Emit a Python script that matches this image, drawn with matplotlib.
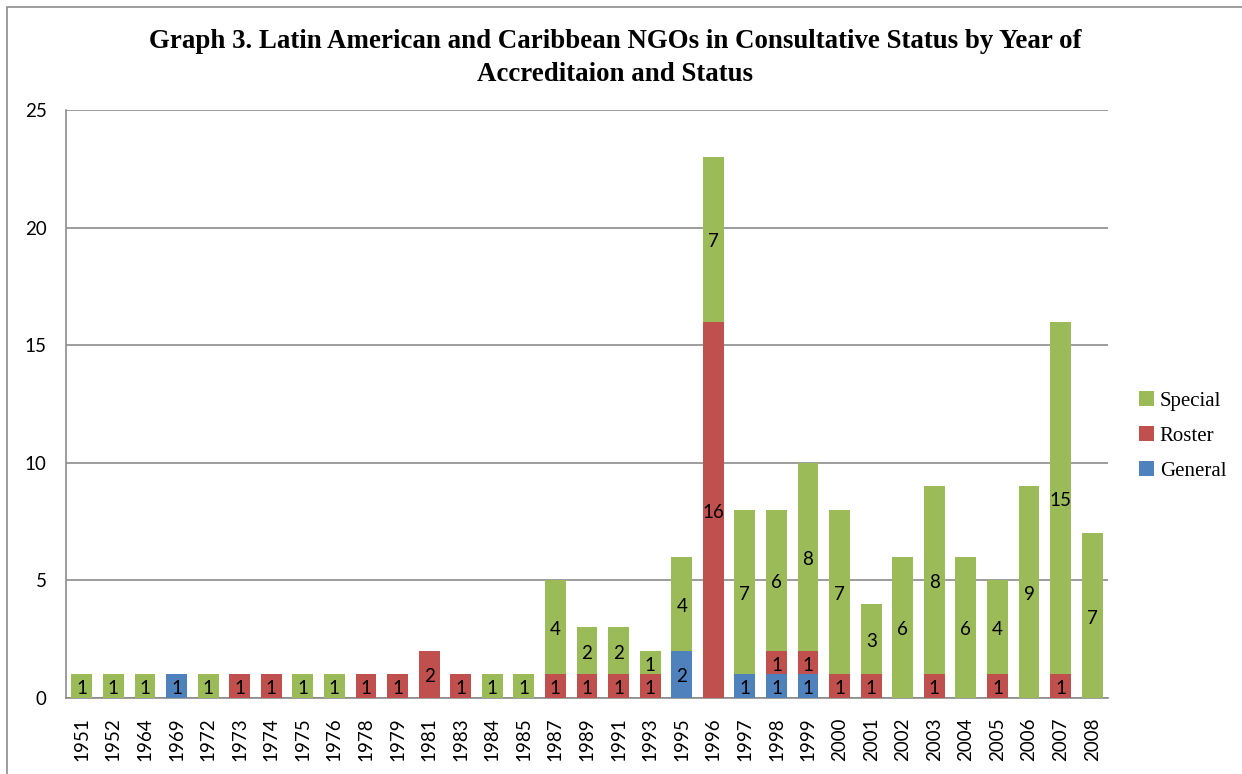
import matplotlib
matplotlib.use("Agg")
import matplotlib.pyplot as plt
from matplotlib.patches import Rectangle
import numpy as np

years = ["1951", "1952", "1964", "1969", "1972", "1973", "1974", "1975", "1976",
         "1978", "1979", "1981", "1983", "1984", "1985", "1987", "1989", "1991",
         "1993", "1995", "1996", "1997", "1998", "1999", "2000", "2001", "2002",
         "2003", "2004", "2005", "2006", "2007", "2008"]
general = [0, 0, 0, 1, 0, 0, 0, 0, 0, 0, 0, 0, 0, 0, 0, 0, 0, 0,
           0, 2, 0, 1, 1, 1, 0, 0, 0, 0, 0, 0, 0, 0, 0]
roster = [0, 0, 0, 0, 0, 1, 1, 0, 0, 1, 1, 2, 1, 0, 0, 1, 1, 1,
          1, 0, 16, 0, 1, 1, 1, 1, 0, 1, 0, 1, 0, 1, 0]
special = [1, 1, 1, 0, 1, 0, 0, 1, 1, 0, 0, 0, 0, 1, 1, 4, 2, 2,
           1, 4, 7, 7, 6, 8, 7, 3, 6, 8, 6, 4, 9, 15, 7]

title = ("Graph 3. Latin American and Caribbean NGOs in Consultative Status by Year of\n"
         "Accreditaion and Status")

c_general = "#4F81BD"
c_roster = "#C0504D"
c_special = "#9BBB59"
grid_c = "#8C8C8C"

W, H = 1242, 774
fig = plt.figure(figsize=(W / 100, H / 100), dpi=100)
ax = fig.add_axes([66 / W, 1 - 698 / H, (1108 - 66) / W, (698 - 110) / H])

# outer frame of the chart area
fig.add_artist(Rectangle((7 / W, -0.1), 1.2, 1 - 7 / H + 0.1,
                         transform=fig.transFigure, fill=False,
                         edgecolor="#8C8C8C", linewidth=1.2))

x = np.arange(len(years))
g = np.array(general, dtype=float)
r = np.array(roster, dtype=float)
s = np.array(special, dtype=float)
bw = 0.66

series = [("General", g, np.zeros_like(g), c_general),
          ("Roster", r, g, c_roster),
          ("Special", s, g + r, c_special)]
handles = {}
for name, vals, base, col in series:
    bars = ax.bar(x, vals, bw, bottom=base, color=col, label=name, zorder=3)
    handles[name] = bars
    for xi, v, b in zip(x, vals, base):
        if v > 0:
            ax.text(xi, b + v / 2 - 0.1, f"{int(v)}", ha="center", va="center",
                    fontsize=13.5, family="Lato", color="black", zorder=4)

ax.set_xlim(-0.5, len(years) - 0.5)
ax.set_ylim(0, 25)
ax.set_yticks([0, 5, 10, 15, 20, 25])
ax.set_xticks(x)
ax.set_xticklabels(years, rotation=90, fontsize=13.5, family="Lato")
for lab in ax.get_yticklabels():
    lab.set_family("Lato")
    lab.set_fontsize(13.5)
ax.tick_params(axis="both", length=0)
ax.tick_params(axis="y", pad=14)
ax.tick_params(axis="x", pad=14)

ax.grid(axis="y", color=grid_c, linewidth=1.2, zorder=0)
ax.set_axisbelow(True)
for side in ["top", "right"]:
    ax.spines[side].set_visible(False)
for side in ["left", "bottom"]:
    ax.spines[side].set_color(grid_c)
    ax.spines[side].set_linewidth(1.2)

fig.text(615 / W, 1 - 58 / H, title, ha="center", va="center",
         fontsize=19.4, fontweight="bold", family="Liberation Serif",
         linespacing=1.42)

leg = fig.legend([handles["Special"], handles["Roster"], handles["General"]],
                 ["Special", "Roster", "General"],
                 loc="center left", bbox_to_anchor=(1139 / W, 1 - 436 / H),
                 frameon=False, prop={"family": "Liberation Serif", "size": 15},
                 handlelength=0.7, handleheight=0.7, handletextpad=0.3,
                 labelspacing=0.75, borderaxespad=0, borderpad=0)

fig.savefig("out.png", dpi=100)
